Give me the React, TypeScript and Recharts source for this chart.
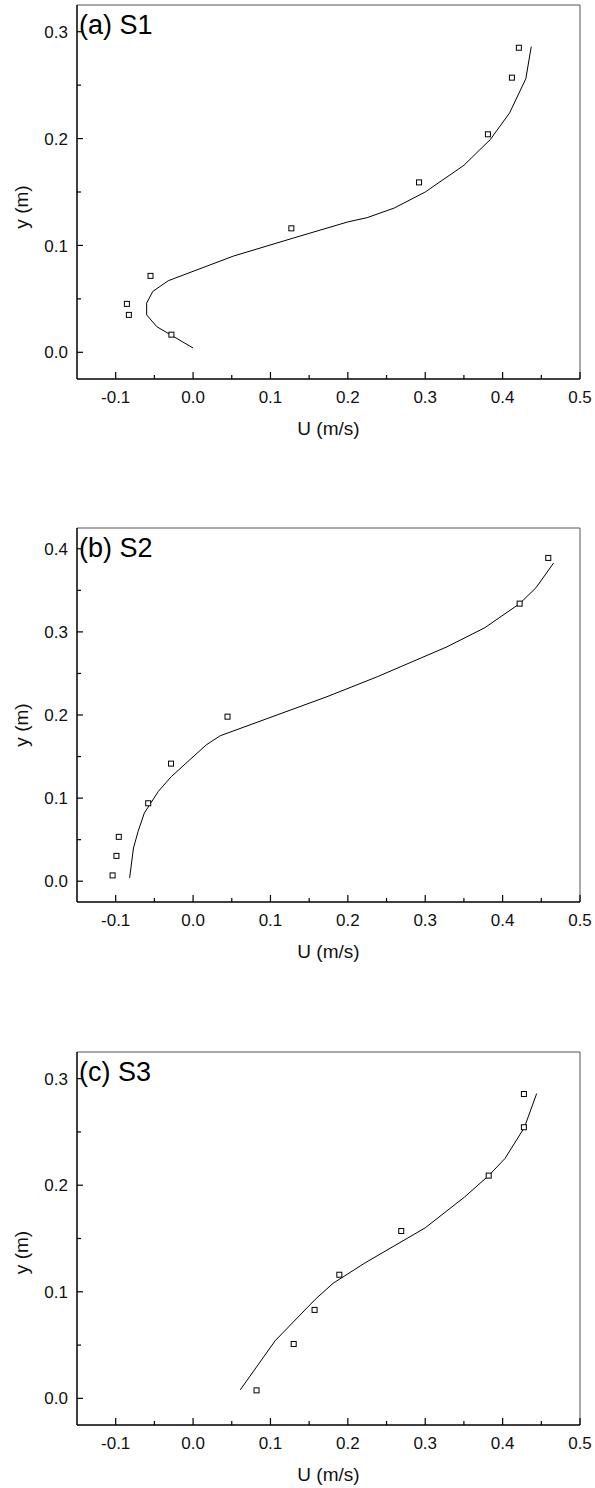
import React from 'react';
import { ScatterChart, Scatter, XAxis, YAxis, ReferenceLine } from 'recharts';

// ---------- data ----------
const xTicks = [-0.1, -0.05, 0, 0.05, 0.1, 0.15, 0.2, 0.25, 0.3, 0.35, 0.4, 0.45, 0.5];
const yTicksA = [0, 0.05, 0.1, 0.15, 0.2, 0.25, 0.3];
const yTicksB = [0, 0.05, 0.1, 0.15, 0.2, 0.25, 0.3, 0.35, 0.4];
const yTicksC = [0, 0.05, 0.1, 0.15, 0.2, 0.25, 0.3];

const measA = [
  { u: -0.028, y: 0.0165 }, { u: -0.083, y: 0.035 }, { u: -0.0855, y: 0.0453 },
  { u: -0.055, y: 0.0715 }, { u: 0.127, y: 0.116 }, { u: 0.292, y: 0.159 },
  { u: 0.381, y: 0.204 }, { u: 0.412, y: 0.257 }, { u: 0.421, y: 0.285 },
];
const simA = [
  { u: 0.0, y: 0.004 }, { u: -0.047, y: 0.024 }, { u: -0.06, y: 0.035 },
  { u: -0.06, y: 0.046 }, { u: -0.052, y: 0.057 }, { u: -0.032, y: 0.067 },
  { u: 0.052, y: 0.09 }, { u: 0.13, y: 0.107 }, { u: 0.2, y: 0.122 },
  { u: 0.225, y: 0.126 }, { u: 0.26, y: 0.135 }, { u: 0.3, y: 0.15 },
  { u: 0.35, y: 0.175 }, { u: 0.384, y: 0.199 }, { u: 0.409, y: 0.224 },
  { u: 0.43, y: 0.256 }, { u: 0.437, y: 0.286 },
];

const measB = [
  { u: -0.104, y: 0.007 }, { u: -0.099, y: 0.0305 }, { u: -0.096, y: 0.0534 },
  { u: -0.058, y: 0.0938 }, { u: -0.0285, y: 0.1415 }, { u: 0.0445, y: 0.198 },
  { u: 0.422, y: 0.334 }, { u: 0.459, y: 0.389 },
];
const simB = [
  { u: -0.082, y: 0.004 }, { u: -0.077, y: 0.04 }, { u: -0.071, y: 0.06 },
  { u: -0.063, y: 0.082 }, { u: -0.045, y: 0.108 }, { u: -0.028, y: 0.126 },
  { u: 0.017, y: 0.164 }, { u: 0.035, y: 0.175 }, { u: 0.173, y: 0.222 },
  { u: 0.238, y: 0.246 }, { u: 0.328, y: 0.282 }, { u: 0.377, y: 0.305 },
  { u: 0.422, y: 0.334 }, { u: 0.443, y: 0.353 }, { u: 0.466, y: 0.383 },
];

const measC = [
  { u: 0.082, y: 0.0075 }, { u: 0.13, y: 0.051 }, { u: 0.157, y: 0.083 },
  { u: 0.189, y: 0.116 }, { u: 0.269, y: 0.157 }, { u: 0.382, y: 0.209 },
  { u: 0.4275, y: 0.2544 }, { u: 0.4275, y: 0.2856 },
];
const simC = [
  { u: 0.061, y: 0.008 }, { u: 0.106, y: 0.054 }, { u: 0.158, y: 0.093 },
  { u: 0.181, y: 0.108 }, { u: 0.222, y: 0.127 }, { u: 0.3, y: 0.16 },
  { u: 0.351, y: 0.189 }, { u: 0.382, y: 0.209 }, { u: 0.403, y: 0.225 },
  { u: 0.428, y: 0.254 }, { u: 0.444, y: 0.286 },
];

// ---------- style ----------
const FONT = '"Liberation Sans", Arial, Helvetica, sans-serif';
const TICK_FS = 17;
const TITLE_FS = 19;
const PANEL_FS = 27;
const W = 595;
const PLOT_LEFT = 77;
const RIGHT_MARGIN = 15;

const isMajor = (v: number) => Math.abs(v * 10 - Math.round(v * 10)) < 1e-6;

function XTick(props: any) {
  const { x, y, payload } = props;
  const v = payload.value as number;
  const major = isMajor(v);
  return (
    <g>
      <line x1={x} x2={x} y1={y} y2={y - (major ? 7 : 4)} stroke="#000" strokeWidth={1.2} />
      {major && (
        <text x={x} y={y + 18} dy="0.36em" textAnchor="middle" fontSize={TICK_FS} fontFamily={FONT} fill="#111">
          {v.toFixed(1)}
        </text>
      )}
    </g>
  );
}

function YTick(props: any) {
  const { x, y, payload } = props;
  const v = payload.value as number;
  const major = isMajor(v);
  return (
    <g>
      <line x1={x} x2={x + (major ? 6 : 4)} y1={y} y2={y} stroke="#000" strokeWidth={1.2} />
      {major && (
        <text x={x - 9} y={y} dy="0.36em" textAnchor="end" fontSize={TICK_FS} fontFamily={FONT} fill="#111">
          {v.toFixed(1)}
        </text>
      )}
    </g>
  );
}

const Square = (props: any) => {
  const { cx, cy } = props;
  if (cx == null || cy == null) return <g />;
  return <rect x={cx - 2.5} y={cy - 2.5} width={5} height={5} fill="#fff" stroke="#000" strokeWidth={1} />;
};
const NoShape = () => <g />;

type PanelProps = {
  height: number;
  top: number;
  plotH: number;
  yDomain: [number, number];
  yTicks: number[];
  meas: { u: number; y: number }[];
  sim: { u: number; y: number }[];
  label: string;
  titleOffset: number;
};

function Panel({ height, top, plotH, yDomain, yTicks, meas, sim, label, titleOffset }: PanelProps) {
  const xAxisH = height - top - plotH;
  const plotBottom = top + plotH;
  const plotCenterX = (PLOT_LEFT + (W - RIGHT_MARGIN)) / 2;
  const yTitleCy = top + plotH / 2 + titleOffset;
  return (
    <div style={{ position: 'relative', width: W, height }}>
      <ScatterChart width={W} height={height} margin={{ top, right: RIGHT_MARGIN, bottom: 0, left: 0 }}>
        <XAxis
          type="number"
          dataKey="u"
          domain={[-0.15, 0.5]}
          ticks={xTicks}
          interval={0}
          allowDataOverflow
          height={xAxisH}
          tickSize={0}
          tickMargin={0}
          tickLine={false}
          tick={<XTick />}
          axisLine={{ stroke: '#000', strokeWidth: 1.5 }}
        />
        <YAxis
          type="number"
          dataKey="y"
          domain={yDomain}
          ticks={yTicks}
          interval={0}
          allowDataOverflow
          width={PLOT_LEFT}
          tickSize={0}
          tickMargin={0}
          tickLine={false}
          tick={<YTick />}
          axisLine={{ stroke: '#000', strokeWidth: 1.5 }}
        />
        <ReferenceLine y={yDomain[1]} stroke="#555" strokeWidth={1} />
        <ReferenceLine x={0.5} stroke="#555" strokeWidth={1} />
        <Scatter data={sim} line={{ stroke: '#000', strokeWidth: 1 }} shape={NoShape} isAnimationActive={false} />
        <Scatter data={meas} shape={Square} isAnimationActive={false} />
      </ScatterChart>
      <svg width={W} height={height} style={{ position: 'absolute', left: 0, top: 0, pointerEvents: 'none' }}>
        <text x={79} y={top + 29} fontSize={PANEL_FS} fontFamily={FONT} fill="#000">{label}</text>
        <text x={plotCenterX} y={plotBottom + 49} dy="0.36em" textAnchor="middle" fontSize={TITLE_FS} fontFamily={FONT} fill="#111">
          U (m/s)
        </text>
        <text
          x={22.5}
          y={yTitleCy}
          dy="0.3em"
          textAnchor="middle"
          fontSize={TITLE_FS}
          fontFamily={FONT}
          fill="#111"
          transform={`rotate(-90, 22.5, ${yTitleCy})`}
        >
          y (m)
        </text>
      </svg>
    </div>
  );
}

export default function App() {
  return (
    <div style={{ position: 'absolute', left: 0, top: 0, width: W, height: 1488, background: '#fff' }}>
      <Panel height={480} top={5} plotH={374} yDomain={[-0.025, 0.325]} yTicks={yTicksA} meas={measA} sim={simA} label="(a) S1" titleOffset={15} />
      <Panel height={500} top={48} plotH={374} yDomain={[-0.025, 0.425]} yTicks={yTicksB} meas={measB} sim={simB} label="(b) S2" titleOffset={10} />
      <Panel height={508} top={72} plotH={373} yDomain={[-0.025, 0.325]} yTicks={yTicksC} meas={measC} sim={simC} label="(c) S3" titleOffset={14} />
    </div>
  );
}
